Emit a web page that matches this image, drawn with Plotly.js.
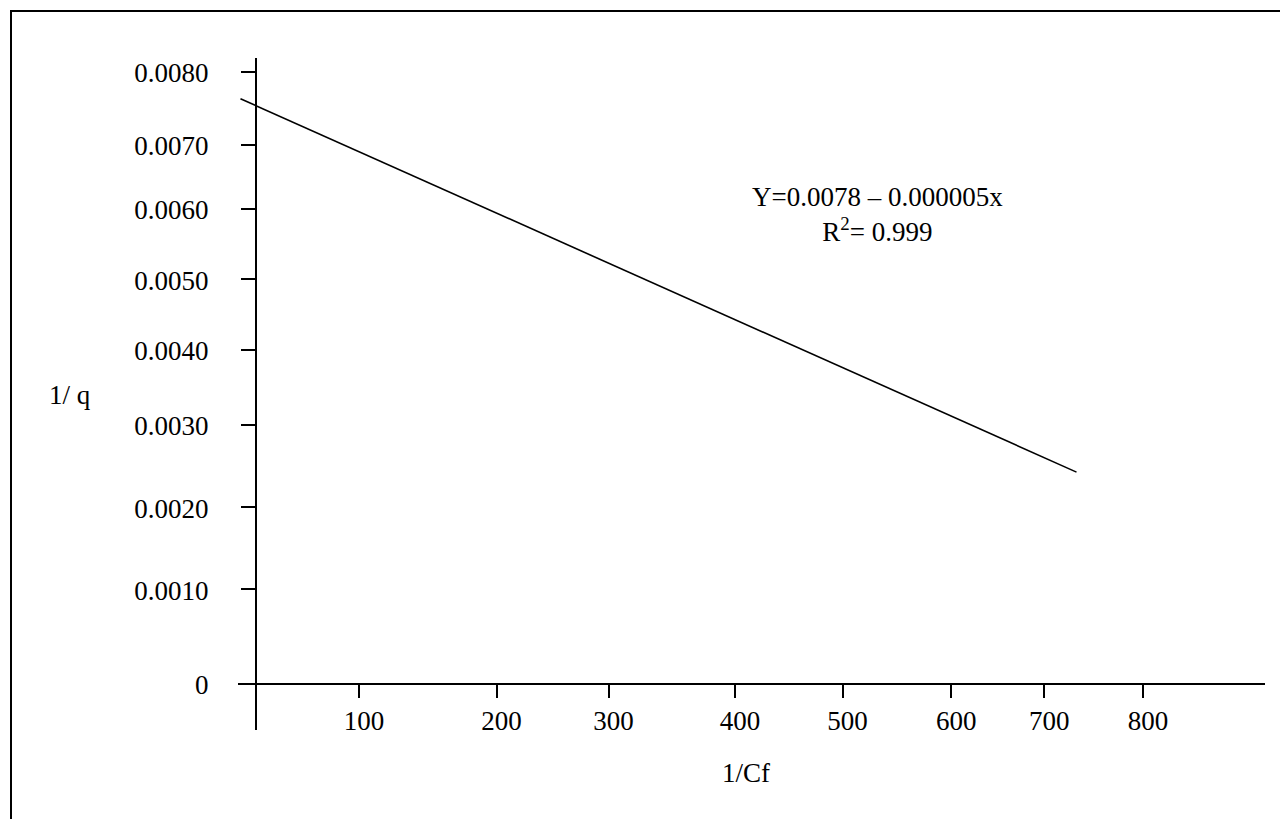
<!DOCTYPE html>
<html>
<head>
<meta charset="utf-8">
<script src="https://cdn.plot.ly/plotly-3.0.1.min.js"></script>
<style>
  html, body { margin: 0; padding: 0; background: #ffffff; }
  #chart { width: 1280px; height: 819px; }
</style>
</head>
<body>
<div id="chart"></div>
<script>
// ---- data ----
const lineX = [-14, 740];            // 1/Cf at the two ends of the fitted line
const lineY = [0.00765, 0.00277];    // 1/q at the two ends of the fitted line

const xTickLabels = ['100', '200', '300', '400', '500', '600', '700', '800'];
const xTickDrawnAt = [93, 217, 318, 432, 529, 627, 711, 800];

const yTickLabels = ['0', '0.0010', '0.0020', '0.0030', '0.0040', '0.0050', '0.0060', '0.0070', '0.0080'];
const yTickDrawnAt = [0, 0.00124, 0.00231, 0.00339, 0.00437, 0.00529, 0.00621, 0.00705, 0.0080];

const equationText = 'Y=0.0078 – 0.000005x<br>R<sup>2</sup>= 0.999';
const xTitle = '1/Cf';
const yTitle = '1/ q';

// ---- layout helpers (plot area in page pixels) ----
const W = 1280, H = 819;
const L = 238, R = 1265, T = 58, B = 730;
const pxX = p => (p - L) / (R - L);
const pxY = p => (B - p) / (B - T);

const FONT = 'Liberation Serif, Times New Roman, serif';
const FS = 27;

const trace = {
  x: lineX,
  y: lineY,
  type: 'scatter',
  mode: 'lines',
  line: { color: '#000000', width: 1.6 },
  hoverinfo: 'skip',
  showlegend: false
};

const layout = {
  width: W,
  height: H,
  autosize: false,
  paper_bgcolor: '#ffffff',
  plot_bgcolor: '#ffffff',
  margin: { l: L, r: W - R, t: T, b: H - B, pad: 0 },
  font: { family: FONT, size: FS, color: '#000000' },
  showlegend: false,
  xaxis: {
    range: [-16.23, 910.0],
    anchor: 'free',
    position: pxY(684),
    showline: true,
    linecolor: '#000000',
    linewidth: 2,
    ticks: 'outside',
    ticklen: 13,
    tickwidth: 2,
    tickcolor: '#000000',
    tickmode: 'array',
    tickvals: xTickDrawnAt,
    ticktext: xTickLabels,
    ticklabelstandoff: 0,
    ticklabelshift: 5,
    tickfont: { family: FONT, size: FS, color: '#000000' },
    showgrid: false,
    zeroline: false,
    fixedrange: true
  },
  yaxis: {
    range: [-0.000601, 0.008183],
    anchor: 'free',
    position: pxX(256),
    side: 'left',
    showline: true,
    linecolor: '#000000',
    linewidth: 2,
    ticks: 'outside',
    ticklen: 14,
    tickwidth: 2,
    tickcolor: '#000000',
    tickmode: 'array',
    tickvals: yTickDrawnAt,
    ticktext: yTickLabels,
    ticklabelstandoff: 27,
    ticklabelshift: 1,
    tickfont: { family: FONT, size: FS, color: '#000000' },
    showgrid: false,
    zeroline: false,
    fixedrange: true
  },
  shapes: [
    {
      type: 'rect',
      xref: 'paper', yref: 'paper',
      x0: pxX(11), x1: pxX(1320),
      y0: pxY(860), y1: pxY(11),
      line: { color: '#000000', width: 2 },
      fillcolor: 'rgba(0,0,0,0)',
      layer: 'above'
    }
  ],
  annotations: [
    {
      xref: 'paper', yref: 'paper',
      x: pxX(877), y: pxY(215),
      xanchor: 'center', yanchor: 'middle',
      text: equationText,
      showarrow: false,
      align: 'center',
      font: { family: FONT, size: FS, color: '#000000' }
    },
    {
      xref: 'paper', yref: 'paper',
      x: pxX(70), y: pxY(395),
      xanchor: 'center', yanchor: 'middle',
      text: yTitle,
      showarrow: false,
      font: { family: FONT, size: FS, color: '#000000' }
    },
    {
      xref: 'paper', yref: 'paper',
      x: pxX(746), y: pxY(773),
      xanchor: 'center', yanchor: 'middle',
      text: xTitle,
      showarrow: false,
      font: { family: FONT, size: FS, color: '#000000' }
    }
  ]
};

Plotly.newPlot('chart', [trace], layout, { staticPlot: true, displayModeBar: false });
</script>
</body>
</html>
